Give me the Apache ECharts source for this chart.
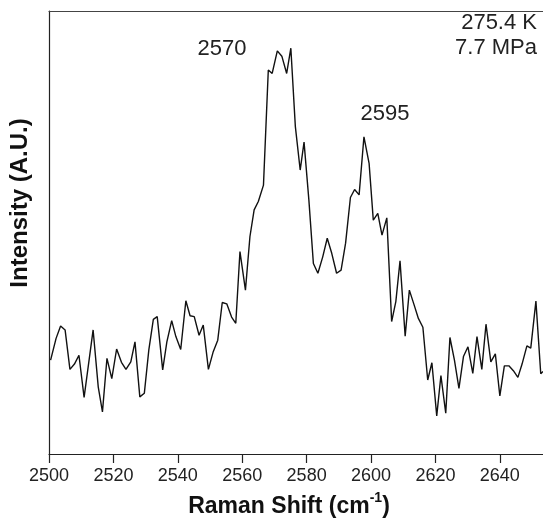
<!DOCTYPE html>
<html>
<head>
<meta charset="utf-8">
<script src="https://cdn.jsdelivr.net/npm/echarts@6/dist/echarts.min.js"></script>
<style>
  html, body { margin: 0; padding: 0; background: #fff; }
  #chart { width: 543px; height: 521px; }
</style>
</head>
<body>
<div id="chart"></div>
<script>
// raman shift (cm-1)
let shift = [
    2500.5, 2502.2, 2503.6, 2505.0, 2506.5, 2507.9, 2509.3, 2510.9, 2513.7, 2515.3,
    2516.6, 2518.0, 2519.5, 2521.0, 2522.5, 2523.9, 2525.4, 2526.7, 2528.2, 2529.6,
    2531.0, 2532.4, 2533.6, 2535.3, 2536.6, 2538.1, 2539.4, 2540.9, 2542.5, 2543.8,
    2545.1, 2546.6, 2547.9, 2549.5, 2551.0, 2552.4, 2553.8, 2555.2, 2556.7, 2558.0,
    2559.3, 2561.0, 2562.4, 2563.7, 2565.0, 2566.6, 2568.1, 2569.3, 2570.9, 2572.3,
    2573.8, 2575.1, 2576.5, 2578.0, 2579.2, 2580.7, 2582.1, 2583.5, 2585.0, 2586.4,
    2587.8, 2589.3, 2590.7, 2592.1, 2593.6, 2594.9, 2596.3, 2597.8, 2599.4, 2600.7,
    2602.1, 2603.4, 2604.9, 2606.4, 2607.7, 2609.0, 2610.6, 2611.9, 2613.4, 2614.7,
    2616.1, 2617.6, 2618.9, 2620.4, 2621.7, 2623.2, 2624.5, 2625.9, 2627.3, 2628.7,
    2630.1, 2631.6, 2632.9, 2634.4, 2635.7, 2637.2, 2638.6, 2640.0, 2641.4, 2642.8,
    2644.2, 2645.6, 2646.9, 2648.4, 2649.6, 2651.2, 2652.7, 2653.4
]
// intensity (A.U.)
let intensity = [
    21.2, 26.1, 28.9, 28.0, 19.1, 20.3, 22.3, 12.8, 28.0, 15.1,
    9.5, 21.6, 17.0, 23.7, 20.7, 19.1, 20.8, 25.3, 12.9, 13.7,
    23.5, 30.4, 31.0, 19.0, 25.3, 30.1, 26.5, 23.6, 34.6, 31.2,
    31.0, 26.8, 29.1, 19.1, 23.1, 25.7, 34.2, 33.9, 30.9, 29.5,
    45.7, 37.0, 49.1, 55.1, 57.0, 60.7, 86.7, 85.9, 91.0, 89.8,
    85.9, 91.6, 73.9, 64.1, 70.4, 57.3, 43.0, 40.8, 44.5, 48.7,
    45.3, 40.8, 41.5, 47.6, 57.9, 59.7, 58.5, 71.6, 65.6, 52.8,
    54.3, 49.4, 53.3, 29.9, 34.4, 43.6, 26.6, 37.0, 33.6, 30.6,
    28.6, 16.7, 20.6, 8.6, 17.7, 9.2, 26.3, 21.2, 14.8, 22.0,
    24.2, 18.2, 26.5, 19.1, 29.3, 20.8, 22.6, 13.1, 19.9, 19.9,
    18.8, 17.3, 20.3, 24.4, 23.9, 34.5, 18.1, 18.6
]
let peakLabels = ['2570', '2595']
let conditions = ['275.4 K', '7.7 MPa']

let fontName = '"Liberation Sans", Arial, Helvetica, sans-serif'

let points = []
for (let i = 0; i < shift.length; i++) {
    points.push([shift[i], intensity[i]])
}

let chart = echarts.init(document.getElementById('chart'))

let option = {
    animation: false,
    backgroundColor: '#fff',
    grid: {
        left: 49,
        right: 0,
        top: 11,
        bottom: 67
    },
    xAxis: [{
        type: 'value',
        min: 2500,
        max: 2653.4,
        interval: 20,
        axisLine: { show: true, lineStyle: { color: '#222', width: 1.2 } },
        axisTick: { show: true, length: 9, lineStyle: { color: '#222', width: 1.2 } },
        axisLabel: {
            show: true,
            showMaxLabel: false,
            margin: 13,
            color: '#222',
            fontSize: 18,
            fontFamily: fontName,
            formatter: function (v) {
                return String(v)
            }
        },
        splitLine: { show: false }
    }, {
        type: 'value',
        position: 'top',
        min: 2500,
        max: 2653.4,
        axisLine: { show: true, lineStyle: { color: '#444', width: 1.2 } },
        axisTick: { show: false },
        axisLabel: { show: false },
        splitLine: { show: false }
    }],
    yAxis: {
        type: 'value',
        min: 0,
        max: 100,
        axisLine: { show: true, lineStyle: { color: '#222', width: 1.2 } },
        axisTick: { show: false },
        axisLabel: { show: false },
        splitLine: { show: false }
    },
    series: [{
        type: 'line',
        data: points,
        showSymbol: false,
        lineStyle: { color: '#111', width: 1.4 }
    }],
    graphic: [
        {
            type: 'text',
            x: 222, y: 49,
            style: {
                text: peakLabels[0], fill: '#222', font: '22px ' + fontName,
                align: 'center', verticalAlign: 'middle'
            }
        },
        {
            type: 'text',
            x: 385, y: 114,
            style: {
                text: peakLabels[1], fill: '#222', font: '22px ' + fontName,
                align: 'center', verticalAlign: 'middle'
            }
        },
        {
            type: 'text',
            x: 537, y: 23,
            style: {
                text: conditions[0], fill: '#222', font: '22px ' + fontName,
                align: 'right', verticalAlign: 'middle'
            }
        },
        {
            type: 'text',
            x: 537, y: 48,
            style: {
                text: conditions[1], fill: '#222', font: '22px ' + fontName,
                align: 'right', verticalAlign: 'middle'
            }
        },
        {
            type: 'text',
            x: 289, y: 507,
            style: {
                text: '{m|Raman Shift (cm}{sup|-1}{m|)}',
                rich: {
                    m: { fontSize: 23, fontWeight: 'bold', fontFamily: fontName, lineHeight: 32, fill: '#111' },
                    sup: { fontSize: 14, fontWeight: 'bold', fontFamily: fontName, lineHeight: 14, verticalAlign: 'top', fill: '#111' }
                },
                align: 'center', verticalAlign: 'middle'
            }
        },
        {
            type: 'text',
            x: 20, y: 203,
            rotation: Math.PI / 2,
            style: {
                text: 'Intensity (A.U.)',
                fill: '#111', fontSize: 24, fontWeight: 'bold', fontFamily: fontName,
                align: 'center', verticalAlign: 'middle'
            }
        }
    ]
}

chart.setOption(option)
</script>
</body>
</html>
